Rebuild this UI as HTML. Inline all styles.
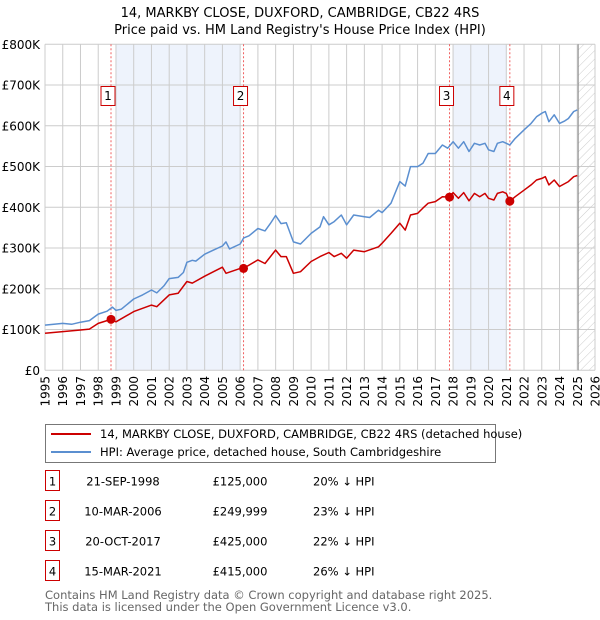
<!DOCTYPE html>
<html><head><meta charset="utf-8"><style>
body{margin:0;background:#fff;font-family:"Liberation Sans","DejaVu Sans",sans-serif;}
#wrap{position:relative;width:600px;height:620px;overflow:hidden;}
svg text{font-family:"DejaVu Sans","Liberation Sans",sans-serif;}
</style></head><body>
<div id="wrap">
<svg id="chart" width="600" height="620"></svg>
</div>
<script>
const years=[1995,1996,1997,1998,1999,2000,2001,2002,2003,2004,2005,2006,2007,2008,2009,2010,2011,2012,2013,2014,2015,2016,2017,2018,2019,2020,2021,2022,2023,2024,2025,2026];
const yTicks=[0,100,200,300,400,500,600,700,800];
const yTickLabels=["£0","£100K","£200K","£300K","£400K","£500K","£600K","£700K","£800K"];
const hpiT=[1995,1996,1996.5,1997,1997.5,1998,1998.5,1998.8,1999,1999.3,2000,2000.5,2001,2001.3,2001.7,2002,2002.5,2002.8,2003,2003.3,2003.5,2004,2004.5,2005,2005.2,2005.4,2006,2006.2,2006.5,2007,2007.4,2007.7,2008,2008.3,2008.6,2009,2009.4,2010,2010.5,2010.7,2011,2011.3,2011.7,2012,2012.4,2013,2013.3,2013.8,2014,2014.5,2015,2015.3,2015.6,2016,2016.3,2016.6,2017,2017.4,2017.7,2018,2018.3,2018.6,2018.9,2019.2,2019.5,2019.8,2020,2020.3,2020.5,2020.8,2021,2021.2,2021.5,2022,2022.4,2022.7,2023,2023.2,2023.4,2023.7,2024,2024.3,2024.5,2024.8,2025];
const hpiV=[111,115,113,118,122,138,145,155,147,150,175,185,197,190,207,225,228,240,265,270,268,285,295,305,315,298,310,325,330,348,342,360,380,360,362,315,310,336,352,377,357,365,381,357,381,377,375,393,387,410,463,452,500,500,508,532,532,553,545,561,545,561,537,557,553,557,541,537,557,561,557,553,569,590,606,622,631,635,610,627,606,612,618,635,639];
const ppT=[1995,1996,1997,1997.5,1998,1998.72,1999,2000,2001,2001.3,2002,2002.5,2003,2003.3,2004,2004.5,2005,2005.2,2006,2006.19,2007,2007.4,2008,2008.3,2008.6,2009,2009.4,2010,2010.5,2011,2011.3,2011.7,2012,2012.4,2013,2013.8,2014,2014.5,2015,2015.3,2015.6,2016,2016.3,2016.6,2017,2017.4,2017.8,2018,2018.3,2018.6,2018.9,2019.2,2019.5,2019.8,2020,2020.3,2020.5,2020.8,2021,2021.2,2021.5,2022,2022.4,2022.7,2023,2023.2,2023.4,2023.7,2024,2024.5,2024.8,2025];
const ppV=[91,95,99,101,115,125,119,144,160,156,185,189,218,214,231,242,253,238,250,250,271,262,295,279,279,238,242,267,279,289,279,287,275,295,291,303,312,336,361,344,381,385,398,410,414,426,425,436,422,436,416,434,426,434,422,418,434,438,434,415,426,442,455,467,471,475,455,467,451,463,475,478];
const saleT=[1998.72,2006.19,2017.8,2021.2];
const saleV=[125,250,425,415];
const saleLbl=["1","2","3","4"];
const shadeStart=[1999.0,2018.0];
const shadeEnd=[2006.0,2021.0];

const X0=45,X1=595,Y0=370.3,Y1=44.3;
const xs=t=>X0+(t-1995)*(X1-X0)/31;
const ys=v=>Y0-(v/800)*(Y0-Y1);
const NS="http://www.w3.org/2000/svg";
const svg=document.getElementById('chart');
function mk(tag,attrs,parent){const e=document.createElementNS(NS,tag);for(const k in attrs)e.setAttribute(k,attrs[k]);(parent||svg).appendChild(e);return e;}

let t=mk('text',{x:300,y:17,'text-anchor':'middle','font-size':13,fill:'#000'});t.textContent="14, MARKBY CLOSE, DUXFORD, CAMBRIDGE, CB22 4RS";


t=mk('text',{x:300,y:34,'text-anchor':'middle','font-size':13,fill:'#000'});t.textContent="Price paid vs. HM Land Registry's House Price Index (HPI)";



const defs=mk('defs',{});
const pat=mk('pattern',{id:'hatch',width:6,height:6,patternUnits:'userSpaceOnUse',patternTransform:'rotate(45)'},defs);
mk('line',{x1:0,y1:0,x2:0,y2:6,stroke:'#ccc','stroke-width':1},pat);

for(let i=0;i<shadeStart.length;i++){
  const r=mk('rect',{x:xs(shadeStart[i]),y:Y1,width:xs(shadeEnd[i])-xs(shadeStart[i]),height:Y0-Y1,fill:'#eef3fc'});
  
  
}
const hr=mk('rect',{x:xs(2025.05),y:Y1,width:X1-xs(2025.05),height:Y0-Y1,fill:'url(#hatch)'});



years.forEach(y=>{
  const l=mk('line',{x1:xs(y),x2:xs(y),y1:Y1,y2:Y0,stroke:'#cccccc','stroke-width':1});
  
  
  const tx=mk('text',{transform:`translate(${xs(y)+4.5},376) rotate(-90)`,'text-anchor':'end','font-size':12,fill:'#000'});
  tx.textContent=y;
  
  
});
yTicks.forEach((v,i)=>{
  const l=mk('line',{x1:X0,x2:X1,y1:ys(v),y2:ys(v),stroke:'#cccccc','stroke-width':1});
  
  
  const tx=mk('text',{x:40,y:ys(v)+4.5,'text-anchor':'end','font-size':12,fill:'#000'});
  tx.textContent=yTickLabels[i];
  
  
});
const vl=mk('line',{x1:xs(2025.05),x2:xs(2025.05),y1:Y1,y2:Y0,stroke:'#888','stroke-width':1});



saleT.forEach((s,i)=>{
  const l=mk('line',{x1:xs(s),x2:xs(s),y1:Y1,y2:Y0,stroke:'#f06060','stroke-width':1,'stroke-dasharray':'2,2'});
  
  
  const g=mk('g',{});
  
  
  mk('rect',{x:xs(s)-10,y:86.5,width:14,height:19,fill:'#fff',stroke:'#cc0000','stroke-width':1},g);
  const tx=mk('text',{x:xs(s)-3,y:100,'text-anchor':'middle','font-size':12,fill:'#000'},g);tx.textContent=saleLbl[i];
});

function path(T,V,color,name){
  const d=T.map((tt,i)=>(i?'L':'M')+xs(tt).toFixed(1)+','+ys(V[i]).toFixed(1)).join('');
  const p=mk('path',{d:d,fill:'none',stroke:color,'stroke-width':1.5,'stroke-linejoin':'round'});
  
  
}
path(hpiT,hpiV,'#5b8fd0','hpi-line');
path(ppT,ppV,'#cc0000','price-paid-line');
saleT.forEach((s,i)=>{
  const c=mk('circle',{cx:xs(s),cy:ys(saleV[i]),r:4.5,fill:'#cc0000'});
  
  
});

// legend
const lg=mk('g',{});


mk('rect',{x:45.5,y:424.5,width:450,height:38,fill:'#fff',stroke:'#777','stroke-width':1},lg);
mk('line',{x1:51,x2:91,y1:434,y2:434,stroke:'#cc0000','stroke-width':2},lg);
mk('line',{x1:51,x2:91,y1:452,y2:452,stroke:'#5b8fd0','stroke-width':2},lg);
t=mk('text',{x:100,y:438,'font-size':11.5,fill:'#000'},lg);t.textContent="14, MARKBY CLOSE, DUXFORD, CAMBRIDGE, CB22 4RS (detached house)";


t=mk('text',{x:100,y:456,'font-size':11.5,fill:'#000'},lg);t.textContent="HPI: Average price, detached house, South Cambridgeshire";



const dates=["21-SEP-1998","10-MAR-2006","20-OCT-2017","15-MAR-2021"];
const prices=["£125,000","£249,999","£425,000","£415,000"];
const pcts=["20% ↓ HPI","23% ↓ HPI","22% ↓ HPI","26% ↓ HPI"];
const rowY=[482,512,542,572];
dates.forEach((d,i)=>{
  const g=mk('g',{});
  
  
  mk('rect',{x:45.5,y:rowY[i]-11.5,width:14,height:20,fill:'#fff',stroke:'#cc0000','stroke-width':1},g);
  let a=mk('text',{x:52.5,y:rowY[i]+3.5,'text-anchor':'middle','font-size':11.5},g);a.textContent=saleLbl[i];
  a=mk('text',{x:123,y:rowY[i]+3.5,'text-anchor':'middle','font-size':11.5},g);a.textContent=d;
  a=mk('text',{x:240,y:rowY[i]+3.5,'text-anchor':'middle','font-size':11.5},g);a.textContent=prices[i];
  a=mk('text',{x:313,y:rowY[i]+3.5,'font-size':11.5},g);a.textContent=pcts[i];
});
t=mk('text',{x:45,y:599,'font-size':11.5,fill:'#666'});t.textContent="Contains HM Land Registry data © Crown copyright and database right 2025.";


t=mk('text',{x:45,y:611,'font-size':11.5,fill:'#666'});t.textContent="This data is licensed under the Open Government Licence v3.0.";


</script>
</body></html>
